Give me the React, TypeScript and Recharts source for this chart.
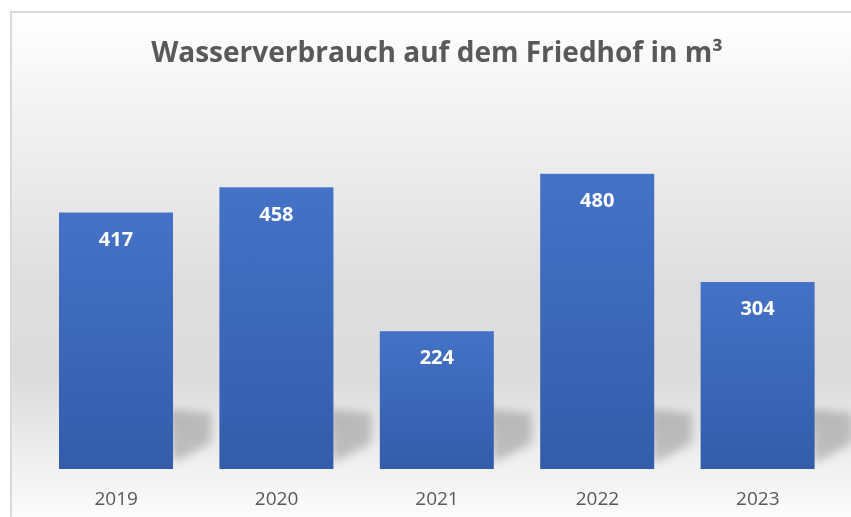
import { BarChart, Bar, XAxis, YAxis, LabelList } from 'recharts';

const years = ['2019', '2020', '2021', '2022', '2023'];
const consumption = [417, 458, 224, 480, 304];

const data = years.map((year, i) => ({ year, value: consumption[i] }));

const font = '"Open Sans", "Noto Sans", sans-serif';

const ShadowBar = (props: any) => {
    const { x, y, width, height } = props;
    const right = x + width;
    const bottom = y + height;
    const shadow = [
        [right - 6, bottom - 60],
        [right + 38, bottom - 56],
        [right + 38, bottom - 26],
        [right, bottom - 6],
    ].map((p) => p.join(',')).join(' ');
    return (
        <g>
            <polygon points={shadow} fill="#8c8c8c" opacity={0.5} filter="url(#barShadow)" />
            <rect x={x} y={y} width={width} height={height} fill="url(#barFill)" />
        </g>
    );
};

const App = () => {
    return (
        <div style={{ position: 'fixed', left: 0, top: 0, width: 851, height: 517, overflow: 'hidden', fontFamily: font }}>
            <div
                style={{
                    position: 'absolute',
                    left: 10,
                    top: 11,
                    width: 860,
                    height: 520,
                    borderLeft: '2px solid #d9d9d9',
                    borderTop: '2px solid #d9d9d9',
                    background: 'linear-gradient(to bottom, #ffffff 0%, #f3f3f3 18%, #dedede 52%, #dcdcdc 70%, #f2f2f2 88%, #ffffff 100%)',
                }}
            />
            <div
                style={{
                    position: 'absolute',
                    left: 0,
                    width: 874,
                    top: 32,
                    textAlign: 'center',
                    fontSize: 28,
                    fontWeight: 700,
                    color: '#595959',
                    lineHeight: '38px',
                }}
            >
                Wasserverbrauch auf dem Friedhof in m³
            </div>
            <div style={{ position: 'absolute', left: 0, top: 0 }}>
                <BarChart
                    width={851}
                    height={517}
                    data={data}
                    margin={{ top: 100, right: 13, bottom: 18, left: 36 }}
                    barSize={114}
                >
                    <defs>
                        <linearGradient id="barFill" x1="0" y1="0" x2="0" y2="1">
                            <stop offset="0%" stopColor="#4472c6" />
                            <stop offset="100%" stopColor="#335dab" />
                        </linearGradient>
                        <filter id="barShadow" x="-50%" y="-50%" width="200%" height="200%">
                            <feGaussianBlur stdDeviation="5" />
                        </filter>
                    </defs>
                    <XAxis
                        dataKey="year"
                        axisLine={false}
                        tickLine={false}
                        height={30}
                        tickMargin={17}
                        tick={{ fill: '#595959', fontSize: 19, fontFamily: font }}
                    />
                    <YAxis hide domain={[0, 600]} />
                    <Bar dataKey="value" shape={ShadowBar} isAnimationActive={false}>
                        <LabelList
                            dataKey="value"
                            position="insideTop"
                            offset={19}
                            fill="#ffffff"
                            fontSize={20}
                            fontWeight={700}
                            fontFamily={font}
                        />
                    </Bar>
                </BarChart>
            </div>
        </div>
    );
};

export default App;
